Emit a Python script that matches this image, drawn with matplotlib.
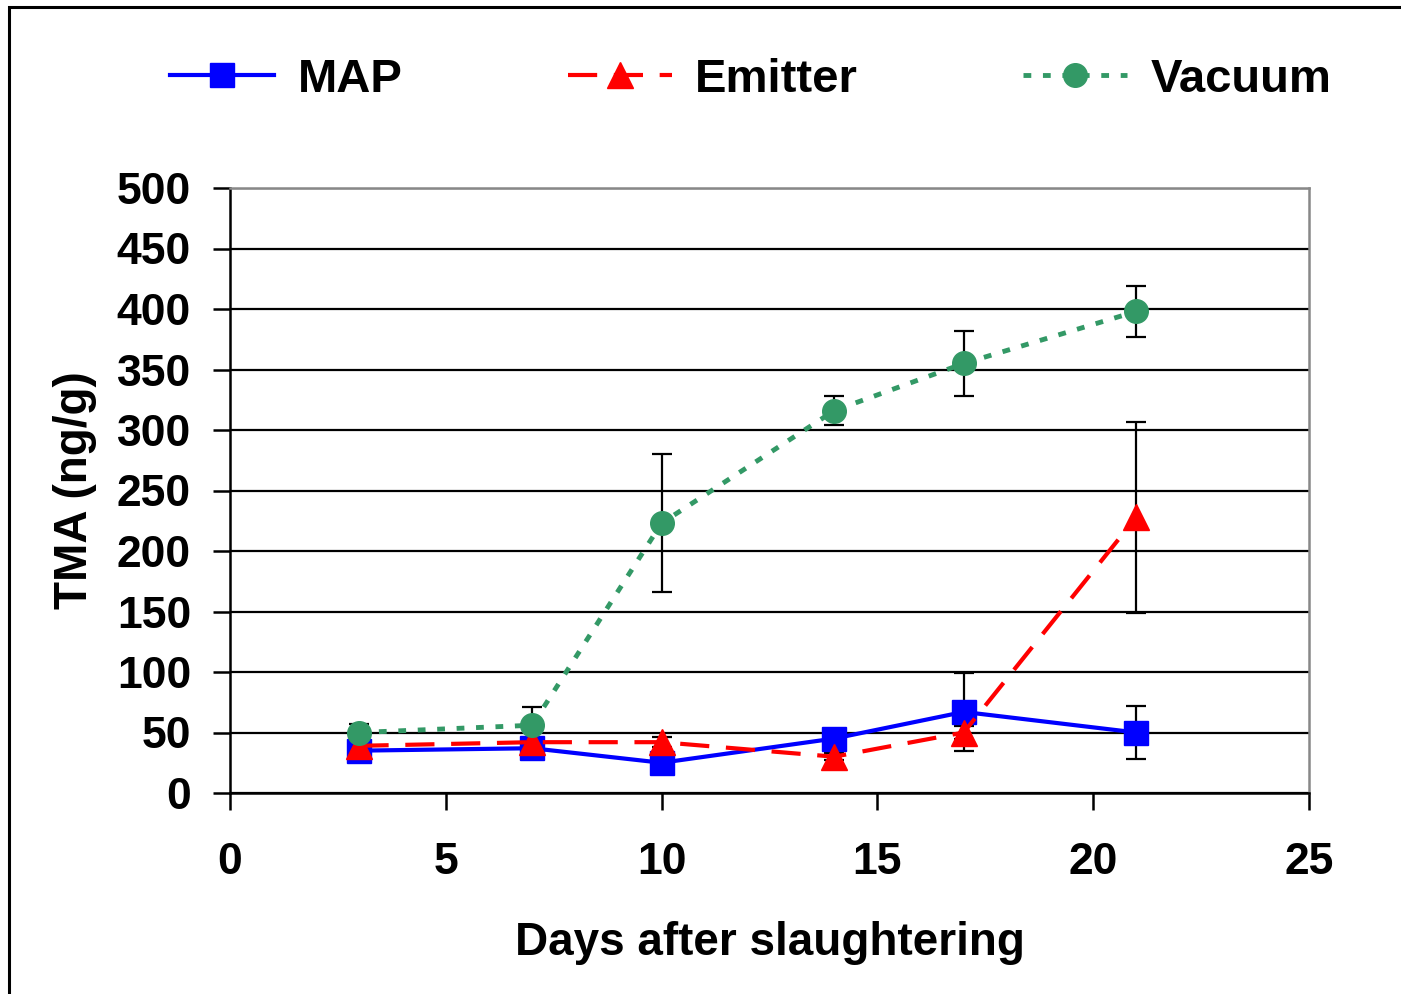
import matplotlib
matplotlib.use("Agg")
import matplotlib.pyplot as plt
from matplotlib.patches import Rectangle

plt.rcParams['font.family'] = ['Liberation Sans', 'DejaVu Sans']
plt.rcParams['font.weight'] = 'bold'

days = [3, 7, 10, 14, 17, 21]
map_vals = [35, 37, 25, 45, 67, 50]
map_err = [0, 0, 0, 0, 32, 22]
emitter_vals = [39, 42, 42, 30, 50, 228]
emitter_err = [0, 0, 4, 3, 5, 79]
vacuum_vals = [50, 56, 223, 316, 355, 398]
vacuum_err = [7, 15, 57, 12, 27, 21]

xticks = [0, 5, 10, 15, 20, 25]
yticks = list(range(0, 501, 50))

fig = plt.figure(figsize=(14.01, 9.94), dpi=100)
ax = fig.add_axes([230/1401, 1-793/994, (1309-230)/1401, (793-188)/994])

ax.set_xlim(0, 25)
ax.set_ylim(0, 500)
ax.set_yticks(yticks)
ax.set_xticks(xticks)
ax.yaxis.grid(True, color='black', linewidth=1.6)
ax.set_axisbelow(True)

eb_kw = dict(ecolor='black', elinewidth=1.6, capsize=7, capthick=1.6)
ax.errorbar(days, vacuum_vals, yerr=vacuum_err, fmt='none', zorder=3, **eb_kw)
ax.errorbar(days, emitter_vals, yerr=emitter_err, fmt='none', zorder=3, **eb_kw)
ax.errorbar(days, map_vals, yerr=map_err, fmt='none', zorder=3, **eb_kw)

ax.plot(days, map_vals, color='#0000FF', lw=3, marker='s', ms=17, label='MAP', zorder=4)
ax.plot(days, emitter_vals, color='#FF0000', lw=3, ls=(0, (7, 4)), marker='^', ms=19,
        label='Emitter', zorder=5)
ax.plot(days, vacuum_vals, color='#339966', lw=3.5, ls=(0, (1.6, 2.4)), marker='o', ms=17,
        label='Vacuum', zorder=6)

for s in ['top', 'right']:
    ax.spines[s].set_color('#888888')
    ax.spines[s].set_linewidth(1.8)
for s in ['left', 'bottom']:
    ax.spines[s].set_color('black')
    ax.spines[s].set_linewidth(1.8)

ax.tick_params(axis='both', labelsize=32, width=1.8, length=12, direction='out')
ax.tick_params(axis='x', pad=23)
ax.tick_params(axis='y', pad=16)
for lab in ax.get_xticklabels() + ax.get_yticklabels():
    lab.set_fontweight('bold')

ax.set_xlabel('Days after slaughtering', fontsize=33, fontweight='bold')
ax.set_ylabel('TMA (ng/g)', fontsize=33, fontweight='bold')
ax.xaxis.set_label_coords(0.5, (793-921)/605)
ax.yaxis.set_label_coords((97-230)/1079, 0.5)

leg = fig.legend(loc='center', bbox_to_anchor=(0.536, 1-80/994), ncol=3, frameon=False,
                 fontsize=34, handlelength=2.2, columnspacing=3.5, handletextpad=0.5)
for t in leg.get_texts():
    t.set_fontweight('bold')

fig.patches.append(Rectangle((9/1401, -0.05), 1.2, 1.05-7/994, transform=fig.transFigure,
                             fill=False, edgecolor='black', linewidth=2.2))

fig.savefig('out.png', dpi=100)
